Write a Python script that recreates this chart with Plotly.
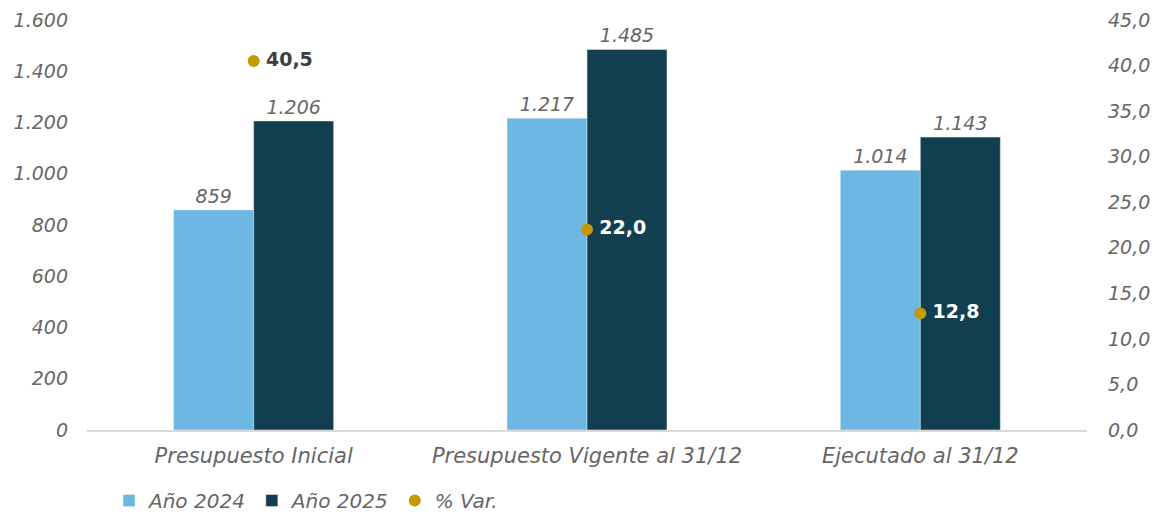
import plotly.graph_objects as go

categories = ["Presupuesto Inicial", "Presupuesto Vigente al 31/12", "Ejecutado al 31/12"]
anio_2024 = [859, 1217, 1014]
anio_2025 = [1206, 1485, 1143]
pct_var = [40.5, 22.0, 12.8]
left_ticks = [0, 200, 400, 600, 800, 1000, 1200, 1400, 1600]
right_ticks = [0, 5, 10, 15, 20, 25, 30, 35, 40, 45]

FONT = "DejaVu Sans"
GRAY = "#666666"
LIGHT = "#6CB8E2"
DARK = "#123F50"
GOLD = "#C49A00"

fig = go.Figure()
fig.add_trace(go.Bar(
    name="Año 2024", x=categories, y=anio_2024, marker_color=LIGHT,
    texttemplate="%{y:,.0f}", textposition="outside",
    textfont=dict(family=FONT, size=19, color=GRAY, style="italic"),
    cliponaxis=False,
))
fig.add_trace(go.Bar(
    name="Año 2025", x=categories, y=anio_2025, marker_color=DARK,
    texttemplate="%{y:,.0f}", textposition="outside",
    textfont=dict(family=FONT, size=19, color=GRAY, style="italic"),
    cliponaxis=False,
))
fig.add_trace(go.Scatter(
    name="% Var.", x=categories, y=pct_var, yaxis="y2", mode="markers+text",
    marker=dict(color=GOLD, size=12),
    texttemplate="\u2009%{y:.1f}", textposition="middle right",
    textfont=dict(family=FONT, size=19, color=["#404040", "white", "white"], weight="bold"),
    cliponaxis=False,
))

fig.update_layout(
    width=1155, height=506,
    margin=dict(l=79, r=76, t=12, b=84, autoexpand=False),
    paper_bgcolor="white", plot_bgcolor="white",
    separators=",.",
    barmode="group", bargap=0.52, bargroupgap=0,
    font=dict(family=FONT, color=GRAY),
    showlegend=True,
    legend=dict(orientation="h", x=0.022, y=-0.172, xanchor="left", yanchor="middle",
                font=dict(family=FONT, size=20, color=GRAY, style="italic"),
                traceorder="normal"),
    xaxis=dict(showline=True, linecolor="#D9D9D9", linewidth=1.5, ticks="",
               tickfont=dict(family=FONT, size=21, color=GRAY, style="italic"),
               ticklabelstandoff=6),
    yaxis=dict(range=[0, 1600], tickvals=left_ticks, tickformat=",.0f",
               showgrid=False, zeroline=False, showline=False,
               tickfont=dict(family=FONT, size=19, color=GRAY, style="italic"),
               ticklabelstandoff=18),
    yaxis2=dict(range=[0, 45], tickvals=right_ticks, tickformat=".1f",
                overlaying="y", side="right",
                showgrid=False, zeroline=False, showline=False,
                tickfont=dict(family=FONT, size=19, color=GRAY, style="italic"),
                ticklabelstandoff=20),
)

fig.write_html("out.html")
